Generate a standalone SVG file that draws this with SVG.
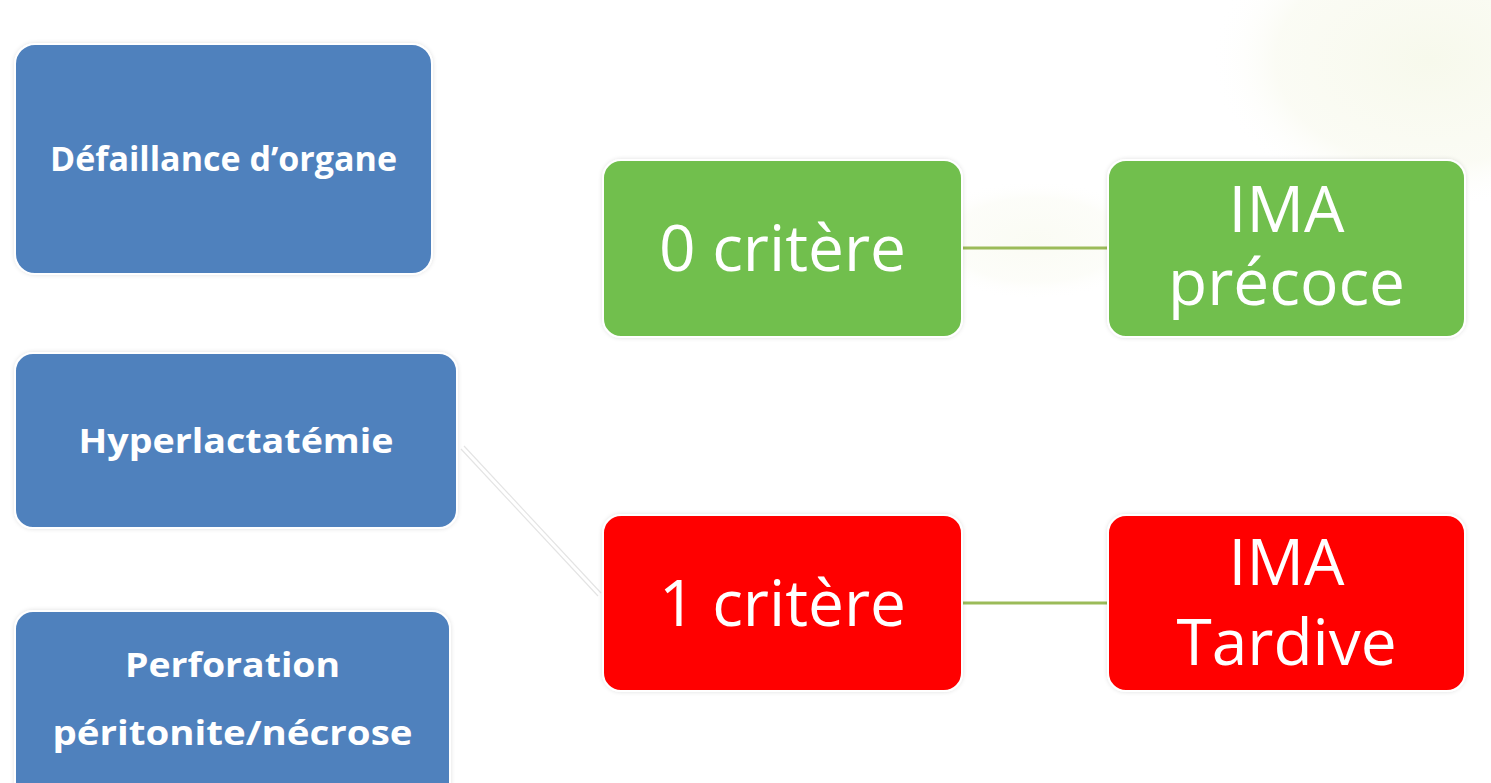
<svg xmlns="http://www.w3.org/2000/svg" width="1491" height="783" viewBox="0 0 1491 783">
<defs>
<radialGradient id="glow" cx="0.5" cy="0.5" r="0.5">
<stop offset="0" stop-color="#f7f9ec" stop-opacity="1"/>
<stop offset="0.7" stop-color="#f9faf0" stop-opacity="0.7"/>
<stop offset="1" stop-color="#ffffff" stop-opacity="0"/>
</radialGradient>
<filter id="sh" x="-5%" y="-5%" width="110%" height="110%">
<feDropShadow dx="0" dy="0" stdDeviation="2" flood-color="#000" flood-opacity="0.12"/>
</filter>
<style>
.blue{fill:#4f81bd;stroke:#ffffff;stroke-width:2;filter:url(#sh)}
.green{fill:#71bf4e;stroke:#ffffff;stroke-width:2;filter:url(#sh)}
.red{fill:#ff0000;stroke:#ffffff;stroke-width:2;filter:url(#sh)}
.tb{font-family:"Open Sans","Liberation Sans",sans-serif;font-weight:bold;font-size:34px;fill:#ffffff;text-anchor:middle}
.tl{font-family:"Open Sans","Liberation Sans",sans-serif;font-size:64px;fill:#ffffff;text-anchor:middle}
.conn{stroke:#9bbb59;stroke-width:3;fill:none}
.diag{stroke:#e4e4e4;stroke-width:1.2;fill:none}
</style>
</defs>
<rect width="1491" height="783" fill="#ffffff"/>
<ellipse cx="1430" cy="60" rx="220" ry="150" fill="url(#glow)"/>
<ellipse cx="1035" cy="240" rx="120" ry="60" fill="url(#glow)" opacity="0.6"/>
<g id="connectors">
<line class="conn" x1="962" y1="248" x2="1107" y2="248"/>
<line class="conn" x1="962" y1="603" x2="1107" y2="603"/>
<line class="diag" x1="461" y1="449" x2="598" y2="596"/>
<line class="diag" x1="464" y1="446" x2="601" y2="593"/>
</g>
<g id="n-defaillance">
<rect class="blue" x="15" y="44" width="417" height="230" rx="20"/>
<text class="tb" x="223.5" y="171" textLength="347" lengthAdjust="spacingAndGlyphs">Défaillance d’organe</text>
</g>
<g id="n-hyperlactatemie">
<rect class="blue" x="15" y="353" width="442" height="175" rx="18"/>
<text class="tb" x="236" y="453" textLength="315" lengthAdjust="spacingAndGlyphs">Hyperlactatémie</text>
</g>
<g id="n-perforation">
<rect class="blue" x="15" y="611" width="435" height="190" rx="18"/>
<text class="tb"><tspan x="232.5" y="677" textLength="215" lengthAdjust="spacingAndGlyphs">Perforation</tspan><tspan x="232.5" y="745" textLength="360" lengthAdjust="spacingAndGlyphs">péritonite/nécrose</tspan></text>
</g>
<g id="n-0critere">
<rect class="green" x="603" y="160" width="359" height="177" rx="18"/>
<text class="tl" x="782.5" y="271">0 critère</text>
</g>
<g id="n-ima-precoce">
<rect class="green" x="1108" y="160" width="357" height="177" rx="18"/>
<text class="tl"><tspan x="1286.5" y="232">IMA</tspan><tspan x="1286.5" y="305">précoce</tspan></text>
</g>
<g id="n-1critere">
<rect class="red" x="603" y="515" width="359" height="176" rx="18"/>
<text class="tl" x="782.5" y="626">1 critère</text>
</g>
<g id="n-ima-tardive">
<rect class="red" x="1108" y="515" width="357" height="176" rx="18"/>
<text class="tl"><tspan x="1286.5" y="585">IMA</tspan><tspan x="1286.5" y="665">Tardive</tspan></text>
</g>
</svg>
